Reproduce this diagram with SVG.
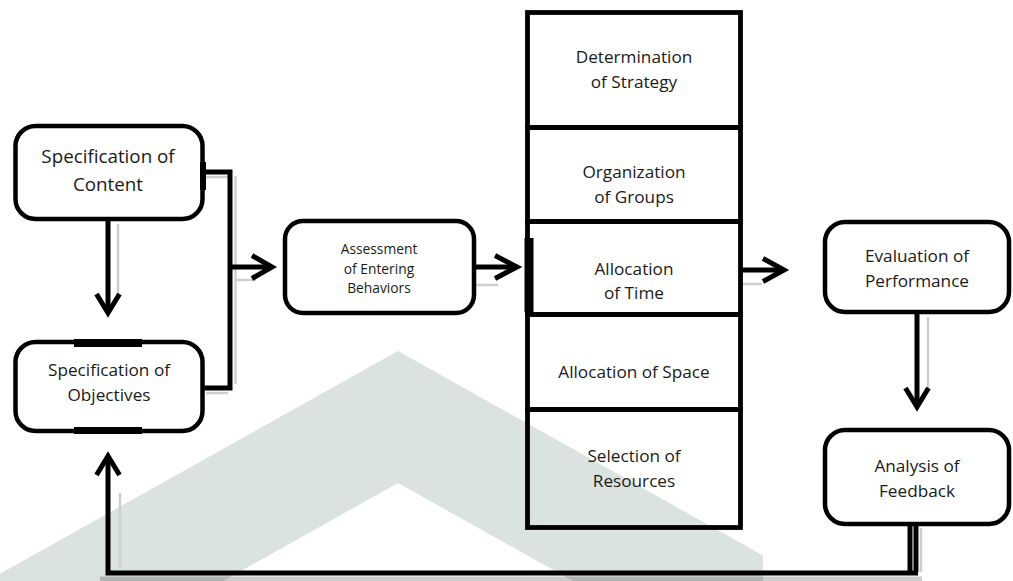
<svg xmlns="http://www.w3.org/2000/svg" width="1013" height="581" viewBox="0 0 1013 581">
  <style>
    .box { fill: none; stroke: #000; stroke-width: 4.5; }
    .cell { fill: none; stroke: #000; stroke-width: 4.8; }
    .wire { fill: none; stroke: #000; stroke-width: 5; }
    .head { fill: none; stroke: #000; stroke-width: 5; stroke-linejoin: miter; stroke-linecap: butt; }
    .shade { fill: none; stroke: #cfcfcf; stroke-width: 2.5; }
    .lbl { font-family: "Open Sans", "Liberation Sans", sans-serif; fill: #1a1a1a; text-anchor: middle; }
    .big { font-size: 18.8px; }
    .mid { font-size: 17.2px; }
    .small { font-size: 13.8px; }
  </style>

  <rect width="1013" height="581" fill="#fff"/>

  <!-- background chevron mark -->
  <polygon points="-13,581 398,351 763,555.4 763,581 573,581 398,483 223,581" fill="#dbe3e0"/>

  <!-- connectors -->
  <g id="connectors">
    <!-- soft grey doubling beside the lines -->
    <line class="shade" x1="118" y1="224" x2="118" y2="298"/>
    <line class="shade" x1="928" y1="317" x2="928" y2="392"/>
    <line class="shade" x1="120" y1="493" x2="120" y2="568"/>
    <line class="shade" x1="235.5" y1="176" x2="235.5" y2="384"/>
    <line class="shade" x1="206" y1="177" x2="228" y2="177"/>
    <line class="shade" x1="206" y1="393" x2="228" y2="393"/>
    <line class="shade" x1="236" y1="280" x2="256" y2="280"/>
    <line class="shade" x1="476" y1="285" x2="498" y2="285"/>
    <line class="shade" x1="738" y1="284" x2="762" y2="284"/>
    <line class="shade" x1="921" y1="528" x2="921" y2="572"/>
    <rect x="100" y="576.5" width="822" height="4.5" fill="#000" opacity="0.2"/>

    <!-- Content / Objectives bracket feeding Assessment -->
    <polyline class="wire" points="202,172 230,172 230,388 202,388"/>
    <line class="wire" x1="230" y1="267" x2="270" y2="267"/>
    <polyline class="head" points="252,255.5 272,267 252,278.5"/>

    <!-- Content -> Objectives -->
    <line class="wire" x1="108" y1="219" x2="108" y2="311"/>
    <polyline class="head" points="96.5,294 108,313 119.5,294"/>

    <!-- Assessment -> strategy column -->
    <line class="wire" x1="474" y1="267" x2="515" y2="267"/>
    <polyline class="head" points="495,255.5 517,267 495,278.5"/>

    <!-- strategy column -> Evaluation -->
    <line class="wire" x1="741" y1="270" x2="782" y2="270"/>
    <polyline class="head" points="763,258.5 784,270 763,281.5"/>

    <!-- Evaluation -> Analysis -->
    <line class="wire" x1="917" y1="311" x2="917" y2="405"/>
    <polyline class="head" points="905.5,388 917,407 928.5,388"/>

    <!-- feedback loop back to Objectives -->
    <line class="wire" x1="910" y1="526" x2="910" y2="572"/>
    <line class="wire" x1="916" y1="526" x2="916" y2="572"/>
    <polyline class="wire" points="918,573 108,573 108,458"/>
    <polyline class="head" points="96.5,475 108,456 119.5,475"/>
  </g>

  <!-- left column -->
  <g id="node-content">
    <rect class="box" x="15.5" y="126" width="187" height="93" rx="20"/>
    <rect x="200" y="162" width="6" height="28" fill="#000"/>
    <text class="lbl big" x="108" y="163">Specification of</text>
    <text class="lbl big" x="108" y="190.5">Content</text>
  </g>

  <g id="node-objectives">
    <rect class="box" x="15.5" y="342" width="187" height="89" rx="20"/>
    <rect x="74" y="339" width="68" height="8" fill="#000"/>
    <rect x="74" y="427" width="68" height="7" fill="#000"/>
    <text class="lbl mid" x="109" y="375.5">Specification of</text>
    <text class="lbl mid" x="109" y="400.5">Objectives</text>
  </g>

  <g id="node-assessment">
    <rect class="box" x="285" y="221" width="189" height="92" rx="18"/>
    <text class="lbl small" x="379" y="254">Assessment</text>
    <text class="lbl small" x="379" y="273.5">of Entering</text>
    <text class="lbl small" x="379" y="293">Behaviors</text>
  </g>

  <!-- strategy column -->
  <g id="node-strategy">
    <rect class="cell" x="527.5" y="12.5" width="213" height="115"/>
    <text class="lbl mid" x="634" y="63">Determination</text>
    <text class="lbl mid" x="634" y="88">of Strategy</text>
  </g>

  <g id="node-groups">
    <rect class="cell" x="527.5" y="127.5" width="213" height="94"/>
    <text class="lbl mid" x="634" y="178">Organization</text>
    <text class="lbl mid" x="634" y="203">of Groups</text>
  </g>

  <g id="node-time">
    <rect class="cell" x="527.5" y="221.5" width="213" height="93"/>
    <rect x="524.5" y="238" width="9" height="74" fill="#000"/>
    <text class="lbl mid" x="634" y="275">Allocation</text>
    <text class="lbl mid" x="634" y="299">of Time</text>
  </g>

  <g id="node-space">
    <rect class="cell" x="527.5" y="314.5" width="213" height="95"/>
    <text class="lbl mid" x="634" y="378">Allocation of Space</text>
  </g>

  <g id="node-resources">
    <rect class="cell" x="527.5" y="409.5" width="213" height="118"/>
    <text class="lbl mid" x="634" y="462">Selection of</text>
    <text class="lbl mid" x="634" y="487">Resources</text>
  </g>

  <!-- right column -->
  <g id="node-evaluation">
    <rect class="box" x="825" y="222" width="184" height="90" rx="20"/>
    <text class="lbl mid" x="917" y="262">Evaluation of</text>
    <text class="lbl mid" x="917" y="287">Performance</text>
  </g>

  <g id="node-analysis">
    <rect class="box" x="825" y="430" width="184" height="94" rx="20"/>
    <text class="lbl mid" x="917" y="472">Analysis of</text>
    <text class="lbl mid" x="917" y="497">Feedback</text>
  </g>
</svg>
